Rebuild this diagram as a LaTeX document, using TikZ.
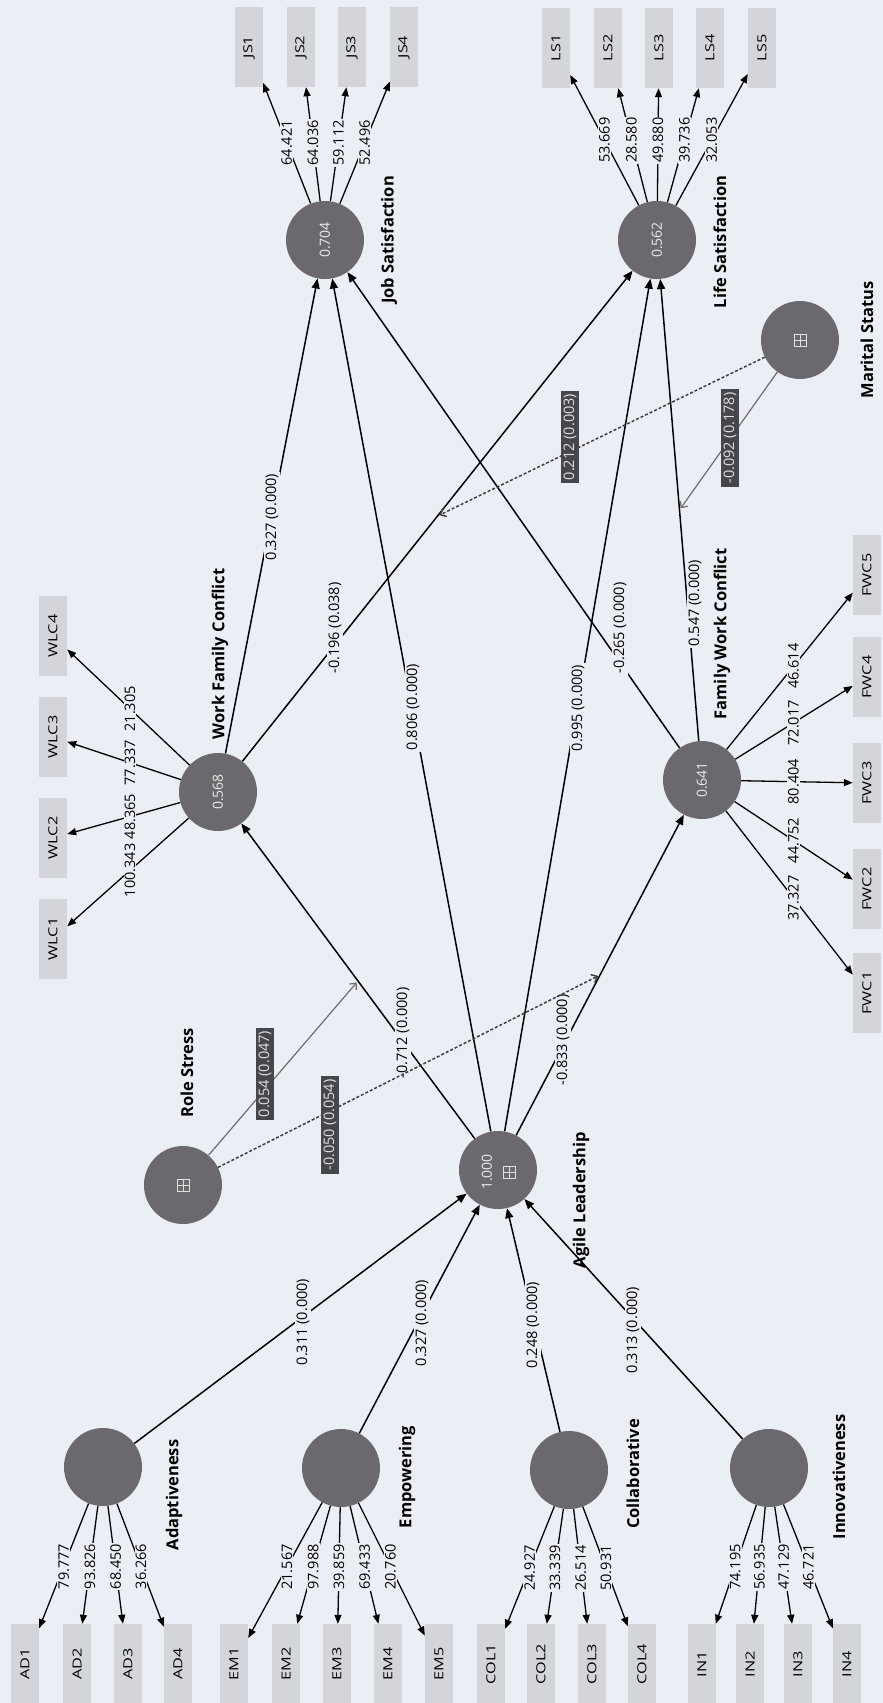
\documentclass[tikz,border=0pt]{standalone}
\usepackage{graphicx}
\usepackage{fontspec}
\setmainfont{Open Sans}
\usetikzlibrary{arrows.meta,calc}
\definecolor{bg}{HTML}{EBEEF4}
\definecolor{circ}{HTML}{6C696E}
\definecolor{boxc}{HTML}{D4D5DA}
\definecolor{dark}{HTML}{46474D}
\definecolor{modgray}{HTML}{6E6E6E}
\newcommand\numfont{\fontsize{14.5}{16}\selectfont}
\newcommand\namefont{\fontsize{16.5}{18}\selectfont\bfseries}
\newcommand\indfont{\fontsize{12.5}{14}\selectfont}
\newcommand\valfont{\fontsize{14}{16}\selectfont}
\newcommand\ix[1]{\scalebox{1.3}[1]{#1}}
\begin{document}
\begin{tikzpicture}[x=1pt,y=-1pt,
  lat/.style={circle, fill=circ, minimum size=78pt, inner sep=0pt, text=white!85!circ, font=\valfont, rotate=90},
  ind/.style={rectangle, fill=boxc, minimum width=80pt, minimum height=28pt, inner sep=0pt, rotate=90, font=\indfont},
  lname/.style={rotate=90, font=\namefont},
  num/.style={rotate=90, font=\numfont, fill=bg, inner sep=1pt},
  snum/.style={rotate=90, font=\numfont, fill=bg, inner sep=2pt},
  mlbl/.style={rotate=90, font=\numfont, fill=dark, text=white!88!black, inner sep=3pt},
  spath/.style={line width=1.5pt, -{Triangle[length=10pt,width=8pt]}},
  load/.style={line width=1.3pt, -{Triangle[length=9pt,width=7pt]}},
  modl/.style={draw=modgray, line width=1.2pt, -{Straight Barb[length=5pt,width=9pt]}, shorten >=2pt},
  modd/.style={draw=black!75, line width=1.5pt, dash pattern=on 3pt off 2pt, -{Straight Barb[length=5pt,width=9pt]}, shorten >=2pt},
  icn/.style={draw=white!80!circ, line width=0.8pt}
]
\useasboundingbox (0,0) rectangle (883,1703);
\fill[bg] (0,0) rectangle (883,1703);

% latent variables
\node[lat] (JS) at (325,240) {0.704};
\node[lat] (LS) at (657,240) {0.562};
\node[lat] (WFC) at (218,792) {0.568};
\node[lat] (FWC) at (702,780) {0.641};
\node[lat] (AL) at (498,1170) {};
\node[lat] (RS) at (183,1185) {};
\node[lat] (MS) at (800,340) {};
\node[lat] (AD) at (103,1467) {};
\node[lat] (EM) at (341,1468) {};
\node[lat] (CO) at (569,1470) {};
\node[lat] (IN) at (769,1468) {};

% inner texts / icons
\node[rotate=90, font=\valfont, text=white!85!circ, inner sep=0pt] (ALv) at (487,1172) {1.000};
\foreach \c/\cx/\cy in {a/509/1172, b/183/1185, c/800/340}{
  \draw[icn] (\cx-6,\cy-6) rectangle (\cx+6,\cy+6);
  \draw[icn] (\cx-6,\cy) -- (\cx+6,\cy) (\cx,\cy-6) -- (\cx,\cy+6);
}

% latent names
\node[lname] (nJS) at (389,240) {Job Satisfaction};
\node[lname] (nLS) at (720,242) {Life Satisfaction};
\node[lname] (nMS) at (867,340) {Marital Status};
\node[lname] (nWFC) at (220,654) {Work Family Conflict};
\node[lname] (nFWC) at (722,634) {Family Work Conflict};
\node[lname] (nAL) at (581,1200) {Agile Leadership};
\node[lname] (nRS) at (187,1073) {Role Stress};
\node[lname] (nAD) at (174,1495) {Adaptiveness};
\node[lname] (nEM) at (407,1477) {Empowering};
\node[lname] (nCO) at (633,1474) {Collaborative};
\node[lname] (nIN) at (839,1477) {Innovativeness};

% indicators
\foreach \n/\x in {1/249,2/301,3/352,4/404} \node[ind] (JS\n) at (\x,47) {\ix{JS\n}};
\foreach \n/\x in {1/556,2/608,3/659,4/710,5/762} \node[ind] (LS\n) at (\x,48) {\ix{LS\n}};
\foreach \n/\y in {1/939,2/838,3/737,4/636} \node[ind] (WLC\n) at (53,\y) {\ix{WLC\n}};
\foreach \n/\y in {1/993,2/889,3/783,4/677,5/575} \node[ind] (FWC\n) at (867,\y) {\ix{FWC\n}};
\foreach \n/\x in {1/25,2/77,3/128,4/178} \node[ind] (AD\n) at (\x,1664) {\ix{AD\n}};
\foreach \n/\x in {1/234,2/286,3/337,4/388,5/439} \node[ind] (EM\n) at (\x,1664) {\ix{EM\n}};
\foreach \n/\x in {1/491,2/541,3/592,4/642} \node[ind] (COL\n) at (\x,1664) {\ix{COL\n}};
\foreach \n/\x in {1/702,2/750,3/798,4/847} \node[ind] (IN\n) at (\x,1664) {\ix{IN\n}};

% loadings
\foreach \n/\v in {1/64.421,2/64.036,3/59.112,4/52.496}{
  \draw[load] (JS) -- (JS\n); \node[num] at ($(JS)!0.503!(JS\n)$) {\v};}
\foreach \n/\v in {1/53.669,2/28.580,3/49.880,4/39.736,5/32.053}{
  \draw[load] (LS) -- (LS\n); \node[num] at ($(LS)!0.52!(LS\n)$) {\v};}
\foreach \n/\v in {1/100.343,2/48.365,3/77.337,4/21.305}{
  \draw[load] (WFC) -- (WLC\n); \node[num] at ($(WFC)!0.533!(WLC\n)$) {\v};}
\foreach \n/\v in {1/37.327,2/44.752,3/80.404,4/72.017,5/46.614}{
  \draw[load] (FWC) -- (FWC\n); \node[num] at ($(FWC)!0.555!(FWC\n)$) {\v};}
\foreach \n/\v in {1/79.777,2/93.826,3/68.450,4/36.266}{
  \draw[load] (AD) -- (AD\n); \node[num] at ($(AD)!0.505!(AD\n)$) {\v};}
\foreach \n/\v in {1/21.567,2/97.988,3/39.859,4/69.433,5/20.760}{
  \draw[load] (EM) -- (EM\n); \node[num] at ($(EM)!0.505!(EM\n)$) {\v};}
\foreach \n/\v in {1/24.927,2/33.339,3/26.514,4/50.931}{
  \draw[load] (CO) -- (COL\n); \node[num] at ($(CO)!0.505!(COL\n)$) {\v};}
\foreach \n/\v in {1/74.195,2/56.935,3/47.129,4/46.721}{
  \draw[load] (IN) -- (IN\n); \node[num] at ($(IN)!0.505!(IN\n)$) {\v};}

% structural paths
\draw[spath] (AD) -- (AL);
\draw[spath] (EM) -- (AL);
\draw[spath] (CO) -- (AL);
\draw[spath] (IN) -- (AL);
\draw[spath] (AL) -- (WFC);
\draw[spath] (AL) -- (FWC);
\draw[spath] (AL) -- (JS);
\draw[spath] (AL) -- (LS);
\draw[spath] (WFC) -- (JS);
\draw[spath] (WFC) -- (LS);
\draw[spath] (FWC) -- (JS);
\draw[spath] (FWC) -- (LS);

\node[snum] at (303,1322) {0.311 (0.000)};
\node[snum] at (422,1323) {0.327 (0.000)};
\node[snum] at (533,1325) {0.248 (0.000)};
\node[snum] at (633,1330) {0.313 (0.000)};
\node[snum] at (403,1033) {-0.712 (0.000)};
\node[snum] at (563,1040) {-0.833 (0.000)};
\node[snum] at (413,707) {0.806 (0.000)};
\node[snum] at (578,708) {0.995 (0.000)};
\node[snum] at (272,517) {0.327 (0.000)};
\node[snum] at (335,628) {-0.196 (0.038)};
\node[snum] at (620,628) {-0.265 (0.000)};
\node[snum] at (695,603) {0.547 (0.000)};

% moderating effects
\coordinate (m1) at ($(AL)!0.5!(WFC)$);
\coordinate (m2) at ($(AL)!0.5!(FWC)$);
\coordinate (m3) at ($(WFC)!0.5!(LS)$);
\coordinate (m4) at ($(FWC)!0.5!(LS)$);
\draw[modl] (RS) -- (m1);
\draw[modd] (RS) -- (m2);
\draw[modd] (MS) -- (m3);
\draw[modl] (MS) -- (m4);
\node[mlbl] at (265,1074) {0.054 (0.047)};
\node[mlbl] at (330,1125) {-0.050 (0.054)};
\node[mlbl] at (570,437) {0.212 (0.003)};
\node[mlbl] at (730,438) {-0.092 (0.178)};
\end{tikzpicture}
\end{document}
